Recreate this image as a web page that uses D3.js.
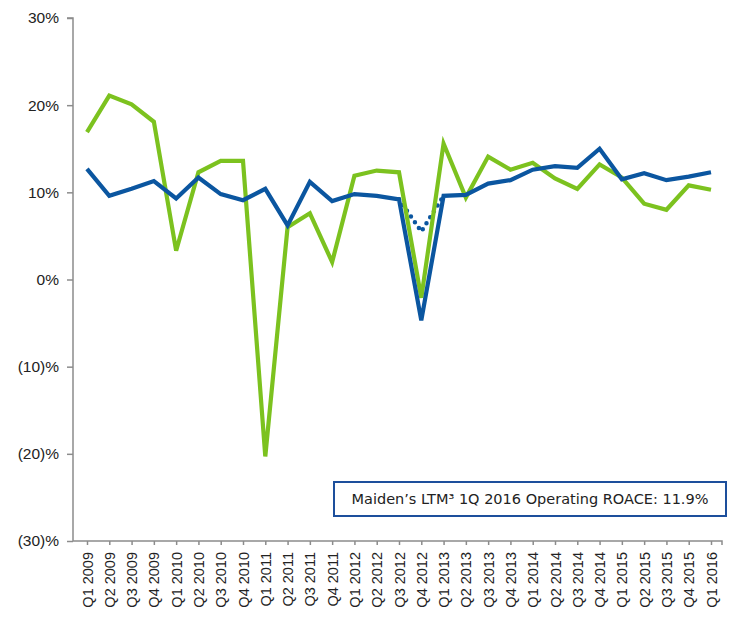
<!DOCTYPE html>
<html lang="en">
  <head>
    <meta charset="UTF-8" />
    <title>Operating ROACE</title>
    <script src="https://cdn.jsdelivr.net/npm/d3@7"></script>
    <style>
      body { margin: 0; background: #fff; }
      svg { font-family: "DejaVu Sans", sans-serif; }
    </style>
  </head>
  <body>
    <div id="container"></div>
    <script>
      // quarters along the x axis
      const quarters = [
        'Q1 2009', 'Q2 2009', 'Q3 2009', 'Q4 2009',
        'Q1 2010', 'Q2 2010', 'Q3 2010', 'Q4 2010',
        'Q1 2011', 'Q2 2011', 'Q3 2011', 'Q4 2011',
        'Q1 2012', 'Q2 2012', 'Q3 2012', 'Q4 2012',
        'Q1 2013', 'Q2 2013', 'Q3 2013', 'Q4 2013',
        'Q1 2014', 'Q2 2014', 'Q3 2014', 'Q4 2014',
        'Q1 2015', 'Q2 2015', 'Q3 2015', 'Q4 2015',
        'Q1 2016'
      ]
      // blue line (Maiden)
      const blueValues = [
        12.7, 9.6, 10.4, 11.3, 9.3, 11.7, 9.8, 9.1,
        10.4, 6.2, 11.2, 9.0, 9.8, 9.6, 9.2, -4.7,
        9.6, 9.7, 11.0, 11.4, 12.6, 13.0, 12.8, 15.0,
        11.5, 12.2, 11.4, 11.8, 12.3
      ]
      // green line (peers)
      const greenValues = [
        16.9, 21.1, 20.1, 18.1, 3.3, 12.3, 13.6, 13.6,
        -20.3, 6.0, 7.6, 2.0, 11.9, 12.5, 12.3, -2.1,
        15.6, 9.4, 14.1, 12.6, 13.4, 11.6, 10.4, 13.2,
        11.7, 8.7, 8.0, 10.8, 10.3
      ]
      // dotted alternative around Q4 2012
      const dottedQuarters = ['Q3 2012', 'Q4 2012', 'Q1 2013']
      const dottedValues = [9.2, 5.5, 9.6]
      const yTicks = [30, 20, 10, 0, -10, -20, -30]
      const legendText = 'Maiden\u2019s LTM\u00b3 1Q 2016 Operating ROACE: 11.9%'

      const width = 736
      const height = 625
      const marginLeft = 73
      const axisRight = 722

      const blue = '#0b56a0'
      const green = '#7cc21f'
      const textColor = '#222'

      const xScale = d3.scalePoint()
        .domain(quarters)
        .range([87, 711])

      const yScale = d3.scaleLinear()
        .domain([-30, 30])
        .range([541, 18])

      const svg = d3.create('svg')
        .attr('width', width)
        .attr('height', height)
        .attr('viewBox', [0, 0, width, height])

      // y axis
      const yAxis = svg.append('g')
        .attr('transform', `translate(${marginLeft}, 0)`)
        .call(d3.axisLeft(yScale)
          .tickValues(yTicks)
          .tickSize(6)
          .tickPadding(8)
          .tickFormat(d => d < 0 ? `(${-d})%` : `${d}%`))
      yAxis.select('.domain').attr('stroke', '#8c8c8c').attr('stroke-width', 1.5)
        .attr('d', `M-6,${yScale(30)}H0V${yScale(-30)}`)
      yAxis.selectAll('.tick line').attr('stroke', '#8c8c8c').attr('stroke-width', 1.5)
      yAxis.selectAll('.tick text')
        .attr('fill', textColor)
        .style('font-size', '15.5px')

      // x axis
      const xAxis = svg.append('g')
        .attr('transform', `translate(0, ${yScale(-30)})`)
        .call(d3.axisBottom(xScale).tickSize(4).tickPadding(6))
      xAxis.select('.domain').attr('stroke', '#8c8c8c').attr('stroke-width', 1.5)
        .attr('d', `M${marginLeft},0H${axisRight}V4`)
      xAxis.selectAll('.tick line').attr('stroke', '#8c8c8c').attr('stroke-width', 1.5)
      xAxis.selectAll('.tick text')
        .attr('fill', textColor)
        .style('font-size', '14.5px')
        .attr('transform', 'rotate(-90)')
        .attr('text-anchor', 'end')
        .attr('dy', '0.35em')
        .attr('x', -11)
        .attr('y', 0)

      const line = d3.line()
        .x(d => xScale(d[0]))
        .y(d => yScale(d[1]))

      // dotted line first, underneath
      svg.append('path')
        .datum(d3.zip(dottedQuarters, dottedValues))
        .attr('fill', 'none')
        .attr('stroke', blue)
        .attr('stroke-width', 4.5)
        .attr('stroke-linecap', 'round')
        .attr('stroke-dasharray', '0,7')
        .attr('d', line)

      svg.append('path')
        .datum(d3.zip(quarters, greenValues))
        .attr('fill', 'none')
        .attr('stroke', green)
        .attr('stroke-width', 4.2)
        .attr('d', line)

      svg.append('path')
        .datum(d3.zip(quarters, blueValues))
        .attr('fill', 'none')
        .attr('stroke', blue)
        .attr('stroke-width', 4.2)
        .attr('d', line)

      // callout box
      const box = svg.append('g').attr('transform', 'translate(334, 482)')
      box.append('rect')
        .attr('width', 392)
        .attr('height', 34)
        .attr('fill', '#fff')
        .attr('stroke', '#1d4f9c')
        .attr('stroke-width', 2)
      box.append('text')
        .attr('x', 196)
        .attr('y', 17)
        .attr('dy', '0.35em')
        .attr('text-anchor', 'middle')
        .attr('fill', textColor)
        .style('font-size', '14.5px')
        .text(legendText)

      document.getElementById('container').append(svg.node())
    </script>
  </body>
</html>
